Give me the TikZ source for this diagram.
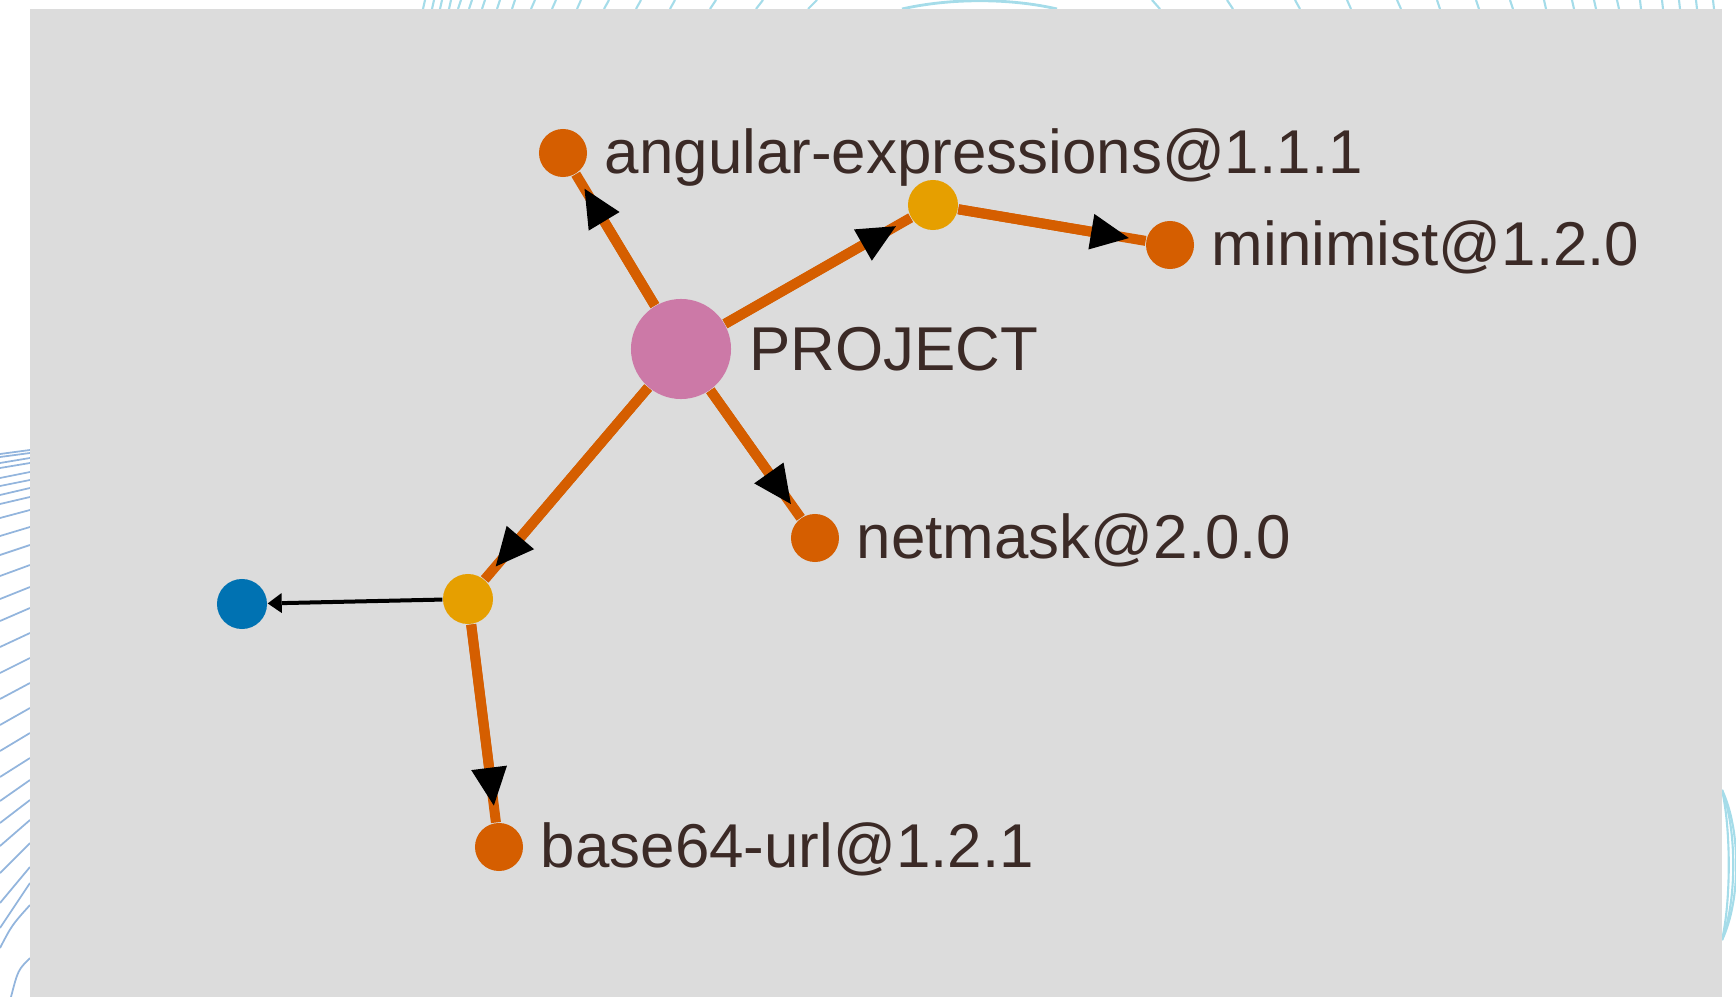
\documentclass[tikz,border=0pt]{standalone}
\usepackage{fontspec}
\setmainfont{Liberation Sans}
\usetikzlibrary{positioning,arrows.meta}
\definecolor{panelbg}{HTML}{DCDCDC}
\definecolor{projpink}{HTML}{CC79A7}
\definecolor{depred}{HTML}{D55E00}
\definecolor{midyellow}{HTML}{E69F00}
\definecolor{leafblue}{HTML}{0072B2}
\definecolor{lbltext}{HTML}{3B2A26}
\definecolor{decoblue}{HTML}{93B5DD}
\definecolor{decocyan}{HTML}{A5DCE9}

\begin{document}
\begin{tikzpicture}[x=0.01cm, y=-0.01cm,
  pkg/.style={circle, inner sep=0pt, minimum size=0.48cm, fill=depred},
  mid/.style={pkg, fill=midyellow, minimum size=0.5cm},
  lbl/.style={inner sep=0pt, text=lbltext, font=\fontsize{17.6}{20}\selectfont,
    text height=0.4cm, text depth=0pt},
  dep/.style={draw=depred, line width=0.1cm},
  deptip/.style={dep, shorten >=0.17cm,
    -{Triangle[length=0.38cm, width=0.36cm, black, line width=0pt]}},
  libedge/.style={draw=black, line width=0.04cm,
    -{Triangle[length=0.14cm, width=0.2cm, line width=0pt]}}]
  % page is 1736 x 997 px, 1 px = 0.01cm, y grows downwards
  \useasboundingbox (0,0) rectangle (1736,997);

  % page decoration peeking out round the panel
  \foreach \yr/\dy in {450/4, 453/4, 458/5, 463/5, 472/6, 480/6, 488/7, 497/7,
      510/8, 527/9, 545/10, 565/11, 587/12, 608/13, 633/14, 658/15, 683/16,
      708/17, 733/18, 758/19, 780/21, 800/23, 820/26, 843/30, 867/36, 883/45} {
    \draw[decoblue, line width=0.5pt] (0,{\yr+\dy}) -- (30,\yr);
  }
  \draw[decoblue, line width=0.5pt] (30,905) .. controls (12,925) .. (0,948);
  \draw[decoblue, line width=0.5pt] (30,958) .. controls (18,970) .. (11,997);
  \foreach \xb/\dx in {423/2, 432/2, 440/2, 449/2, 458/3, 469/3, 482/3, 497/3,
      512/3, 531/4, 552/4, 577/4, 604/5, 636/5, 670/5, 710/6, 756/7, 808/9,
      1160/-8, 1233/-6, 1300/-5, 1351/-4, 1401/-4, 1440/-3, 1479/-3, 1513/-3,
      1546/-2, 1574/-2, 1596/-2, 1619/-2, 1641/-1, 1663/-1, 1680/-1, 1697/-1, 1714/-1} {
    \draw[decocyan, line width=0.6pt] (\xb,9) -- ({\xb+\dx},0);
  }
  \draw[decocyan, line width=0.8pt] (902,9) .. controls (950,-2) and (1010,-2) .. (1057,9);
  \foreach \px in {1731, 1737, 1741} {
    \draw[decocyan, line width=0.6pt] (1722,790) .. controls (\px,830) and (\px,900) .. (1722,940);
  }

  % grey panel
  \fill[panelbg] (30,9) rectangle (1722,997);

  % packages
  \node[pkg, fill=projpink, minimum size=1.0cm] (proj) at (681,349) {};
  \node[pkg] (angexpr) at (563,153) {};
  \node[mid] (mid1) at (933,205) {};
  \node[pkg] (minimist) at (1170,245) {};
  \node[pkg] (netmask) at (815,538) {};
  \node[mid] (mid2) at (468,599) {};
  \node[pkg, fill=leafblue, minimum size=0.5cm] (leaf) at (242,604) {};
  \node[pkg] (base64) at (499,847) {};

  % labels
  \node[lbl, right=0.17cm of proj, text height=0.42cm] (projlbl) {PROJECT};
  \node[lbl, right=0.165cm of angexpr] (angexprlbl) {angular-expressions@1.1.1};
  \node[lbl, right=0.165cm of minimist] (minimistlbl) {minimist@1.2.0};
  \node[lbl, right=0.165cm of netmask] (netmasklbl) {netmask@2.0.0};
  \node[lbl, right=0.165cm of base64] (base64lbl) {base64-url@1.2.1};

  % dependency edges
  \foreach \a/\b in {proj/angexpr, proj/mid1, mid1/minimist, proj/netmask,
      proj/mid2, mid2/base64} {
    \draw[dep] (\a) -- (\b);
    \draw[deptip] (\a) -- (\b);
  }
  \draw[libedge] (mid2) -- (leaf);
\end{tikzpicture}
\end{document}
